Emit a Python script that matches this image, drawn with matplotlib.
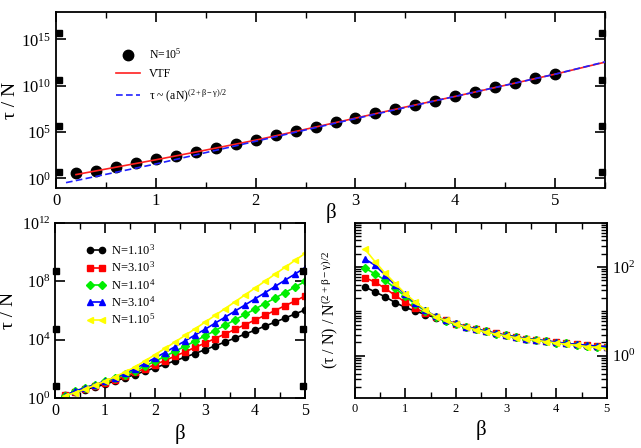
import numpy as np
import matplotlib
matplotlib.use('Agg')
import matplotlib.pyplot as plt
from matplotlib.ticker import NullLocator, NullFormatter, LogLocator, MultipleLocator

plt.rcParams['font.family'] = ['Liberation Serif', 'DejaVu Serif']
plt.rcParams['mathtext.fontset'] = 'custom'
plt.rcParams['mathtext.rm'] = 'Liberation Serif'
plt.rcParams['mathtext.it'] = 'Liberation Serif:italic'
plt.rcParams['axes.linewidth'] = 1.3

# ---- data (log10 values) ----
beta = [0.2, 0.4, 0.6, 0.8, 1.0, 1.2, 1.4, 1.6, 1.8, 2.0, 2.2, 2.4, 2.6,
        2.8, 3.0, 3.2, 3.4, 3.6, 3.8, 4.0, 4.2, 4.4, 4.6, 4.8, 5.0]

# top panel, N=10^5
top_log = [0.54, 0.79, 1.25, 1.61, 2.05, 2.44, 2.87, 3.30, 3.70, 4.13, 4.67,
           5.10, 5.57, 6.04, 6.54, 7.01, 7.48, 7.91, 8.37, 8.85, 9.34, 9.82,
           10.28, 10.79, 11.25]
vtf_beta = [0.2, 0.5, 1.0, 1.5, 2.0, 2.5, 3.0, 3.5, 4.0, 4.5, 5.0, 5.5]
vtf_log = [0.40, 1.00, 2.00, 3.05, 4.12, 5.30, 6.50, 7.70, 8.85, 10.05, 11.25, 12.55]
pow_beta = [0.1, 1.0, 2.0, 3.0, 4.0, 5.0, 5.5]
pow_log = [-0.47, 1.55, 4.00, 6.45, 8.85, 11.25, 12.58]

# bottom left: tau/N for several N
labels_n = ['N=1.10$^{3}$', 'N=3.10$^{3}$', 'N=1.10$^{4}$', 'N=3.10$^{4}$', 'N=1.10$^{5}$']
tau_log = [
    [0.20, 0.39, 0.58, 0.75, 0.94, 1.16, 1.38, 1.61, 1.84, 2.07, 2.31, 2.55, 2.80,
     3.05, 3.31, 3.57, 3.84, 4.11, 4.38, 4.65, 4.93, 5.20, 5.48, 5.76, 6.04],
    [0.20, 0.44, 0.65, 0.84, 1.04, 1.25, 1.48, 1.75, 2.02, 2.29, 2.57, 2.87, 3.16,
     3.47, 3.76, 4.08, 4.39, 4.71, 5.02, 5.35, 5.67, 6.00, 6.33, 6.65, 6.99],
    [0.17, 0.45, 0.70, 0.92, 1.14, 1.36, 1.61, 1.88, 2.19, 2.52, 2.86, 3.20, 3.55,
     3.90, 4.26, 4.62, 4.99, 5.36, 5.73, 6.10, 6.48, 6.85, 7.23, 7.61, 7.99],
    [0.17, 0.47, 0.70, 0.92, 1.17, 1.40, 1.70, 2.01, 2.37, 2.75, 3.12, 3.52, 3.91,
     4.32, 4.71, 5.13, 5.54, 5.96, 6.38, 6.80, 7.22, 7.65, 8.08, 8.50, 8.94],
    [0.15, 0.37, 0.61, 0.88, 1.15, 1.46, 1.78, 2.13, 2.55, 2.97, 3.40, 3.84, 4.29,
     4.74, 5.20, 5.66, 6.13, 6.60, 7.07, 7.54, 8.01, 8.49, 8.96, 9.44, 9.91],
]
# bottom right: scaled tau
scaled_log = [
    [1.55, 1.44, 1.33, 1.20, 1.09, 1.01, 0.93, 0.86, 0.79, 0.72, 0.66, 0.60, 0.55,
     0.50, 0.46, 0.42, 0.39, 0.36, 0.33, 0.30, 0.28, 0.25, 0.23, 0.21, 0.19],
    [1.76, 1.66, 1.52, 1.36, 1.21, 1.08, 0.96, 0.88, 0.80, 0.72, 0.66, 0.61, 0.55,
     0.51, 0.46, 0.43, 0.39, 0.36, 0.33, 0.31, 0.28, 0.26, 0.24, 0.22, 0.21],
    [1.97, 1.85, 1.70, 1.52, 1.34, 1.16, 1.01, 0.88, 0.79, 0.72, 0.66, 0.60, 0.55,
     0.50, 0.46, 0.42, 0.39, 0.36, 0.33, 0.30, 0.28, 0.25, 0.23, 0.21, 0.19],
    [2.18, 2.04, 1.82, 1.59, 1.39, 1.18, 1.03, 0.89, 0.80, 0.73, 0.66, 0.61, 0.55,
     0.51, 0.46, 0.43, 0.39, 0.36, 0.34, 0.31, 0.28, 0.26, 0.24, 0.22, 0.21],
    [2.40, 2.12, 1.86, 1.63, 1.40, 1.21, 1.03, 0.88, 0.80, 0.72, 0.65, 0.59, 0.54,
     0.49, 0.45, 0.41, 0.38, 0.35, 0.32, 0.29, 0.26, 0.24, 0.21, 0.19, 0.16],
]
colors = ['#000000', '#ff0000', '#00ee00', '#0000ff', '#ffff00']
markers = ['o', 's', 'D', '^', '<']

fig = plt.figure(figsize=(6.41, 4.48), dpi=100)
ax1 = fig.add_axes([0.0874, 0.5797, 0.8565, 0.3942])
ax2 = fig.add_axes([0.0858, 0.1116, 0.390, 0.3906])
ax3 = fig.add_axes([0.5538, 0.1116, 0.3927, 0.3913])


def style(ax, fs):
    ax.tick_params(which='both', direction='in', top=True, right=True, labelsize=fs)
    ax.tick_params(which='major', length=7, width=1.2)
    ax.tick_params(which='minor', length=4, width=1.0)


def squares(ax, ys):
    # little black blocks on the side axes
    for xs in (0.006, 0.994):
        ax.plot([xs] * len(ys), ys, 's', color='black', ms=4.5,
                transform=ax.get_yaxis_transform(), clip_on=False, zorder=6)


# ---- top ----
ax1.set_yscale('log')
ax1.plot(beta, 10 ** np.array(top_log), 'o', color='black', ms=7.5, label='N=10$^{5}$', zorder=3)
ax1.plot(vtf_beta, 10 ** np.array(vtf_log), '-', color='#ff2020', lw=1.2, label='VTF', zorder=4)
ax1.plot(pow_beta, 10 ** np.array(pow_log), '--', color='#2020ff', lw=1.2, dashes=(4, 2),
         label=r'τ ~ (aN)$^{\mathrm{(2+β-γ)/2}}$', zorder=5)
ax1.set_xlim(0, 5.5)
ax1.set_ylim(10 ** -1.08, 1e18)
ax1.set_yticks([1, 1e5, 1e10, 1e15])
ax1.yaxis.set_minor_locator(NullLocator())
ax1.xaxis.set_major_locator(MultipleLocator(1))
ax1.xaxis.set_minor_locator(MultipleLocator(0.5))
style(ax1, 12)
squares(ax1, [10 ** 0.65, 10 ** 5.65, 10 ** 10.65, 10 ** 15.65])
ax1.set_xlabel('β', fontsize=15)
ax1.xaxis.set_label_coords(0.5, -0.085)
ax1.set_ylabel('τ / N', fontsize=14)
ax1.yaxis.set_label_coords(-0.068, 0.5)
ax1.legend(loc='upper left', bbox_to_anchor=(0.09, 0.86), frameon=False, fontsize=8.5,
           handlelength=2.0, labelspacing=0.55, handletextpad=0.8)

# ---- bottom left ----
ax2.set_yscale('log')
for i in range(5):
    ax2.plot(beta, 10 ** np.array(tau_log[i]), '-', marker=markers[i], color=colors[i],
             ms=4.5, lw=1.2, label=labels_n[i])
ax2.set_xlim(0, 5)
ax2.set_ylim(1, 1e12)
ax2.set_yticks([1, 1e4, 1e8, 1e12])
ax2.yaxis.set_minor_locator(NullLocator())
ax2.xaxis.set_major_locator(MultipleLocator(1))
ax2.xaxis.set_minor_locator(MultipleLocator(0.5))
style(ax2, 11.5)
squares(ax2, [10 ** 0.8, 10 ** 4.7, 10 ** 8.7])
ax2.set_xlabel('β', fontsize=15)
ax2.set_ylabel('τ / N', fontsize=14)
ax2.yaxis.set_label_coords(-0.15, 0.5)
ax2.legend(loc='upper left', bbox_to_anchor=(0.08, 0.95), frameon=False, fontsize=9,
           handlelength=1.6, labelspacing=0.22, handletextpad=0.4, numpoints=2)

# ---- bottom right ----
ax3.set_yscale('log')
for i in range(5):
    ax3.plot(beta, 10 ** np.array(scaled_log[i]), '-', marker=markers[i], color=colors[i],
             ms=4.5, lw=1.2)
ax3.set_xlim(0, 5)
ax3.set_ylim(10 ** -0.95, 10 ** 3.0)
ax3.set_yticks([1, 100])
ax3.yaxis.set_minor_locator(LogLocator(base=10, subs=np.arange(1, 10)))
ax3.yaxis.set_minor_formatter(NullFormatter())
ax3.xaxis.set_major_locator(MultipleLocator(1))
ax3.xaxis.set_minor_locator(MultipleLocator(0.5))
style(ax3, 9)
ax3.tick_params(axis='y', labelleft=False, labelright=True, labelsize=11.5)
ax3.set_xlabel('β', fontsize=15)
ax3.set_ylabel(r'(τ / N) / N$^{\mathrm{(2+β-γ)/2}}$', fontsize=11.5)
ax3.yaxis.set_label_coords(-0.056, 0.5)

fig.savefig('out.png', dpi=100)
